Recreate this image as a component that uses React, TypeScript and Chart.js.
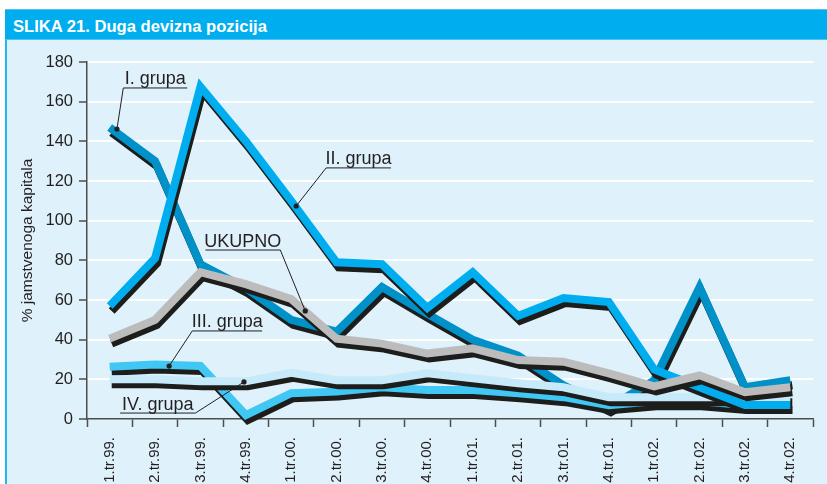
import React, { useEffect, useRef } from 'react';
import { Chart, registerables } from 'chart.js';

Chart.register(...registerables);

// ---- Data ----
const categories = [
  '1.tr.99.', '2.tr.99.', '3.tr.99.', '4.tr.99.',
  '1.tr.00.', '2.tr.00.', '3.tr.00.', '4.tr.00.',
  '1.tr.01.', '2.tr.01.', '3.tr.01.', '4.tr.01.',
  '1.tr.02.', '2.tr.02.', '3.tr.02.', '4.tr.02.',
];

const grupaI = [147, 130, 78, 66, 50, 44, 66.5, 53, 40, 32, 17, 6, 19.5, 66.5, 16, 19.5];
const grupaII = [57, 81, 167.5, 140, 110, 79, 78, 56, 74, 52, 61, 59, 25, 16, 7, 7];
const grupaIII = [26.3, 27.5, 26.7, 2, 13, 13.8, 16, 14.6, 14.6, 13, 11, 7, 9, 9, 7, 7];
const grupaIV = [20, 20, 19, 19, 23.3, 19.6, 19.6, 23, 20.5, 18, 16, 11, 11, 11, 11, 11];
const ukupno = [40.5, 50, 74, 68, 60.5, 40.5, 38, 33, 35.6, 29.7, 28.9, 23, 16.5, 22, 13.5, 16];

const yTicks = [0, 20, 40, 60, 80, 100, 120, 140, 160, 180];

const titleText = 'SLIKA 21. Duga devizna pozicija';
const yAxisTitle = '% jamstvenoga kapitala';

const calloutLabels = ['I. grupa', 'II. grupa', 'UKUPNO', 'III. grupa', 'IV. grupa'];

// callout layout (in data units: category index / value)
const calloutLayout = [
  { x0: 0.30, x1: 1.71, y: 166.9, dx: 0.16, dy: 146.2, from: 'left' },
  { x0: 4.77, x1: 6.20, y: 126.6, dx: 4.11, dy: 107.4, from: 'left' },
  { x0: 2.11, x1: 3.76, y: 85.2, dx: 4.31, dy: 54.5, from: 'right' },
  { x0: 1.82, x1: 3.36, y: 44.4, dx: 1.31, dy: 26.7, from: 'left' },
  { x0: 0.23, x1: 1.89, y: 3.0, dx: 2.96, dy: 18.7, from: 'right' },
];

const FONT = "'Liberation Sans', Arial, Helvetica, sans-serif";
const TEXT = '#231f20';
const AXIS = '#4d4d4d';

const shadowPlugin = {
  id: 'lineShadow',
  beforeDatasetDraw(chart: any) {
    const ctx = chart.ctx;
    ctx.save();
    ctx.shadowColor = '#1d1d1b';
    ctx.shadowOffsetX = 2;
    ctx.shadowOffsetY = 5;
    ctx.shadowBlur = 0;
  },
  afterDatasetDraw(chart: any) {
    chart.ctx.restore();
  },
};

const calloutPlugin = {
  id: 'callouts',
  afterDatasetsDraw(chart: any) {
    const ctx = chart.ctx;
    const xs = chart.scales.x;
    const ys = chart.scales.y;
    const toX = (v: number) => xs.getPixelForValue(0) + v * (xs.getPixelForValue(1) - xs.getPixelForValue(0));
    ctx.save();
    ctx.strokeStyle = TEXT;
    ctx.fillStyle = TEXT;
    ctx.lineWidth = 1;
    calloutLayout.forEach((c, i) => {
      const x0 = toX(c.x0);
      const x1 = toX(c.x1);
      const y = ys.getPixelForValue(c.y);
      const dx = toX(c.dx);
      const dy = ys.getPixelForValue(c.dy);
      ctx.beginPath();
      ctx.moveTo(x0, y);
      ctx.lineTo(x1, y);
      const sx = c.from === 'left' ? x0 : x1;
      ctx.moveTo(sx, y);
      ctx.lineTo(dx, dy);
      ctx.stroke();
      ctx.beginPath();
      ctx.arc(dx, dy, 2.6, 0, Math.PI * 2);
      ctx.fill();
      ctx.font = `18px ${FONT}`;
      ctx.textAlign = 'center';
      ctx.textBaseline = 'alphabetic';
      ctx.fillText(calloutLabels[i], (x0 + x1) / 2, y - 3.5);
    });
    ctx.restore();
  },
};

function makeDataset(label: string, data: number[], color: string, order: number) {
  return {
    label,
    data,
    borderColor: color,
    backgroundColor: color,
    borderWidth: 8,
    borderJoinStyle: 'miter' as const,
    borderCapStyle: 'butt' as const,
    pointRadius: 0,
    tension: 0,
    fill: false,
    clip: false as any,
    order,
  };
}

export default function App() {
  const canvasRef = useRef<HTMLCanvasElement | null>(null);

  useEffect(() => {
    if (!canvasRef.current) return;
    const chart = new Chart(canvasRef.current, {
      type: 'line',
      data: {
        labels: categories,
        datasets: [
          makeDataset('I. grupa', grupaI, '#0091c9', 6),
          makeDataset('II. grupa', grupaII, '#00aeef', 3),
          makeDataset('III. grupa', grupaIII, '#41c7f3', 5),
          makeDataset('IV. grupa', grupaIV, '#c6eaf9', 4),
          makeDataset('UKUPNO', ukupno, '#bcbcbc', 1),
        ],
      },
      options: {
        animation: false,
        responsive: true,
        maintainAspectRatio: false,
        layout: { padding: { left: 0, top: 62, right: 14, bottom: 0 } },
        plugins: { legend: { display: false }, tooltip: { enabled: false } },
        scales: {
          x: {
            type: 'category',
            offset: true,
            afterFit: (s: any) => { s.height = 65; },
            grid: {
              offset: true,
              drawOnChartArea: false,
              drawTicks: true,
              tickLength: 8,
              tickColor: AXIS,
              tickWidth: 1.5,
            },
            border: { color: AXIS, width: 1.5 },
            ticks: {
              autoSkip: false,
              minRotation: 90,
              maxRotation: 90,
              padding: 10,
              color: TEXT,
              font: { family: FONT, size: 15 },
            },
          },
          y: {
            min: 0,
            max: 180,
            afterFit: (s: any) => { s.width = 87; },
            afterBuildTicks: (s: any) => { s.ticks = yTicks.map((v) => ({ value: v })); },
            grid: {
              color: (c: any) => (c.tick && c.tick.value === 0 ? 'rgba(0,0,0,0)' : '#ffffff'),
              lineWidth: 2,
              tickLength: 8,
              tickColor: AXIS,
              tickWidth: 1.5,
            },
            border: { color: AXIS, width: 1.5 },
            ticks: {
              padding: 6,
              color: TEXT,
              font: { family: FONT, size: 16.5 },
            },
            title: {
              display: true,
              text: yAxisTitle,
              color: TEXT,
              font: { family: FONT, size: 15.5 },
              padding: { top: 18, bottom: 0 },
            },
          },
        },
      } as any,
      plugins: [shadowPlugin, calloutPlugin],
    });
    return () => chart.destroy();
  }, []);

  return (
    <div style={{ position: 'absolute', left: 0, top: 0, width: 827, height: 484, background: '#ffffff', overflow: 'hidden' }}>
      <div style={{ position: 'absolute', left: 5, top: 9, width: 822, height: 475, background: '#dff1fb', borderLeft: '2px solid #22b6ef', boxSizing: 'border-box' }} />
      <div style={{ position: 'absolute', left: 5, top: 9, width: 822, height: 31, background: '#00aeef', borderTop: '1px solid #4cc3f2', borderBottom: '1px solid #4cc3f2', boxSizing: 'border-box' }} />
      <div style={{ position: 'absolute', left: 13, top: 18, color: '#ffffff', fontFamily: FONT, fontWeight: 'bold', fontSize: 16.6, lineHeight: '18px', whiteSpace: 'nowrap' }}>
        {titleText}
      </div>
      <div style={{ position: 'absolute', left: 0, top: 0, width: 827, height: 484 }}>
        <canvas ref={canvasRef} />
      </div>
    </div>
  );
}
